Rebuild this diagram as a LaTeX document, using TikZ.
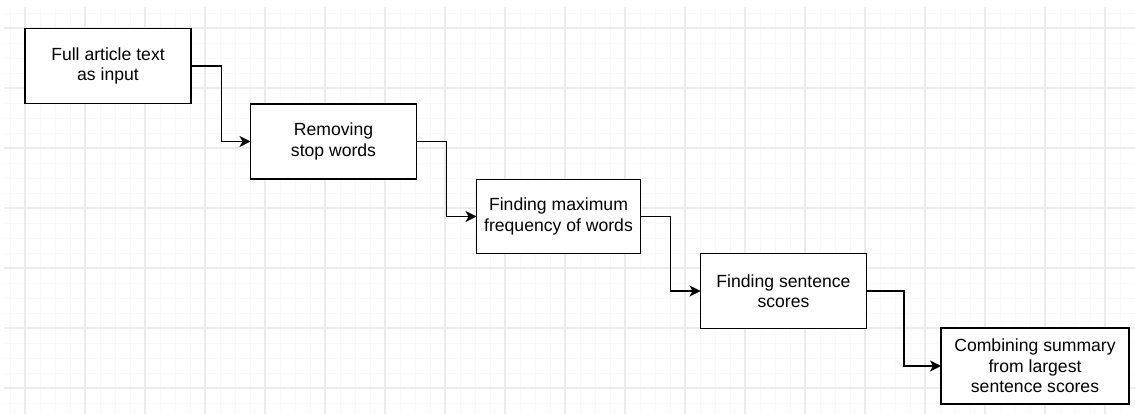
\documentclass[tikz,border=0pt]{standalone}
\usepackage{fontspec}
\setmainfont{Liberation Sans}
\usepackage{tikz}
\usetikzlibrary{shapes,arrows.meta}
\definecolor{gridmajor}{HTML}{EBEBEB}
\definecolor{gridminor}{HTML}{F7F7F7}
\tikzstyle{block} = [rectangle, draw, fill=white, line width=1.3pt, align=center, inner sep=0pt, outer sep=0pt, minimum width=166pt, minimum height=75pt, font=\fontsize{17.6}{20.5}\selectfont]
\tikzstyle{line} = [draw, line width=1.3pt, -{Stealth[length=11pt, width=11pt, inset=3pt]}]
\tikzstyle{minorline} = [draw=gridminor, line width=0.9pt]
\tikzstyle{majorline} = [draw=gridmajor, line width=1.2pt]

\begin{document}
\begin{tikzpicture}[x=1pt, y=-1pt]
      \useasboundingbox (0,0) rectangle (1135,414);
      % background grid
      \foreach \gx in {10,25,...,1135} \draw[minorline] (\gx,7) -- (\gx,414);
      \foreach \gy in {13,28,...,414} \draw[minorline] (4,\gy) -- (1135,\gy);
      \foreach \gx in {25,85,...,1135} \draw[majorline] (\gx,7) -- (\gx,414);
      \foreach \gy in {28,88,...,414} \draw[majorline] (4,\gy) -- (1135,\gy);

      \node [block] (input) at (108,66) {Full article text\\as input};
      \node [block] (stopwords) at (333.5,141.5) {Removing\\stop words};
      \node [block, minimum width=164pt, minimum height=74pt] (maxfreq) at (558.5,216.5) {Finding maximum\\frequency of words};
      \node [block] (scores) at (783.5,291) {Finding sentence\\scores};
      \node [block, minimum width=188pt, minimum height=76pt] (summary) at (1035,366) {Combining summary\\from largest\\sentence scores};

      \path [line] (input.east) -- ++(30.5,0) |- (stopwords.west);
      \path [line] (stopwords.east) -- ++(30,0) |- (maxfreq.west);
      \path [line] (maxfreq.east) -- ++(30,0) |- (scores.west);
      \path [line] (scores.east) -- ++(37.5,0) |- (summary.west);
    \end{tikzpicture}
\end{document}
